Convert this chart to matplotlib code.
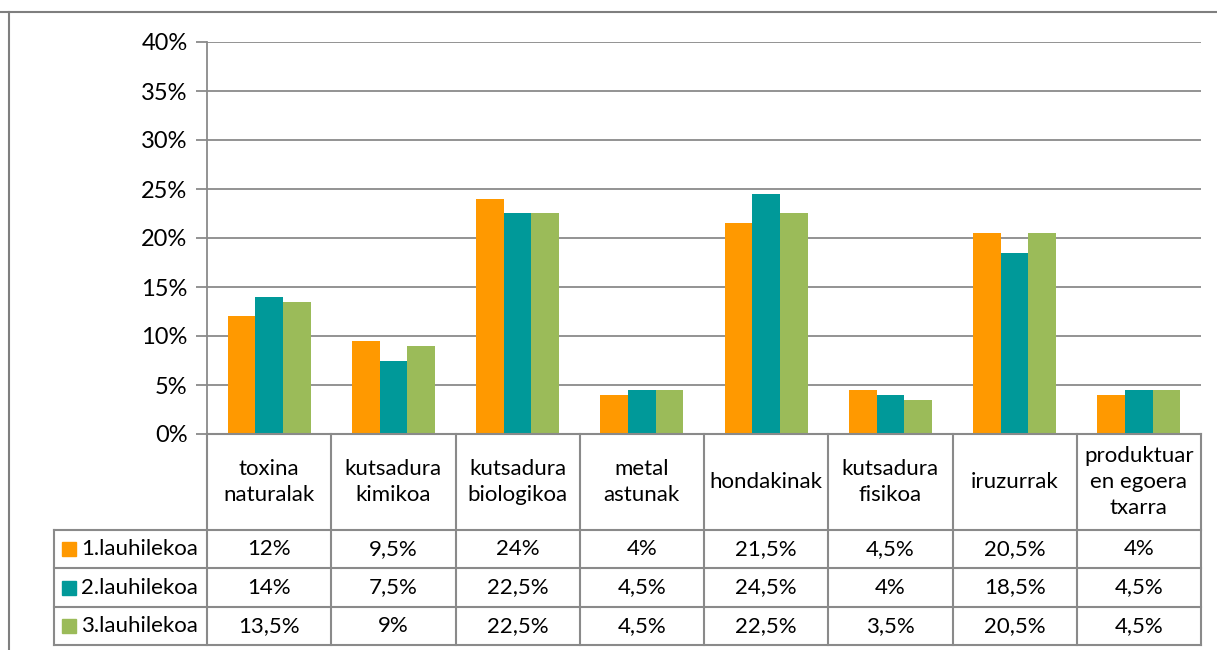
import numpy as np
import matplotlib
matplotlib.use("Agg")
import matplotlib.pyplot as plt
from matplotlib.patches import Rectangle

plt.rcParams['font.family'] = ['Lato', 'DejaVu Sans']

# data
categories = ["toxina\nnaturalak", "kutsadura\nkimikoa", "kutsadura\nbiologikoa", "metal\nastunak",
              "hondakinak", "kutsadura\nfisikoa", "iruzurrak", "produktuar\nen egoera\ntxarra"]
series_names = ["1.lauhilekoa", "2.lauhilekoa", "3.lauhilekoa"]
q1 = [12, 9.5, 24, 4, 21.5, 4.5, 20.5, 4]
q2 = [14, 7.5, 22.5, 4.5, 24.5, 4, 18.5, 4.5]
q3 = [13.5, 9, 22.5, 4.5, 22.5, 3.5, 20.5, 4.5]
colors = ["#FF9900", "#009999", "#9BBB59"]
yticks = [0, 5, 10, 15, 20, 25, 30, 35, 40]

W, H = 1217, 650
fig = plt.figure(figsize=(W / 100, H / 100), dpi=100)
line_c = "#8a8a8a"

def fx(px):
    return px / W

def fy(px):
    return 1 - px / H

# outer frame (top and left edges visible)
fig.add_artist(plt.Line2D([0, 1], [fy(12), fy(12)], color="#7f7f7f", lw=1.5))
fig.add_artist(plt.Line2D([fx(9), fx(9)], [fy(12), 0], color="#7f7f7f", lw=1.5))

# main bar axes
x0, x1, ytop, ybot = 207, 1201, 42, 434
ax = fig.add_axes([fx(x0), fy(ybot), fx(x1 - x0), (ybot - ytop) / H])
n = len(categories)
x = np.arange(n) + 0.5
bw = 0.222
for i, (vals, c) in enumerate(zip([q1, q2, q3], colors)):
    ax.bar(x + (i - 1) * bw, vals, width=bw, color=c, zorder=3)
ax.set_xlim(0, n)
ax.set_ylim(0, 40)
ax.set_yticks(yticks)
ax.set_yticklabels([f"{t}%" for t in yticks], fontsize=17)
ax.set_xticks([])
ax.grid(axis="y", color=line_c, lw=1.3, zorder=0)
for s in ["top", "right", "bottom"]:
    ax.spines[s].set_visible(False)
ax.spines["left"].set_color(line_c)
ax.spines["left"].set_linewidth(1.3)
ax.tick_params(axis="y", length=8, color=line_c, width=1.3, pad=6)

# data table
tl = 54
leg_w = (x0 - tl) / ((x1 - x0) / n)
row_b = [0, 96, 134, 173, 211]
tax = fig.add_axes([fx(tl), fy(645), fx(x1 - tl), (645 - ybot) / H])
tax.set_xlim(-leg_w, n)
tax.set_ylim(row_b[-1], 0)
tax.axis("off")
kw = dict(color=line_c, lw=1.5, clip_on=False)
# horizontal lines
tax.plot([0, n], [0, 0], **kw)
for yb in row_b[1:]:
    tax.plot([-leg_w, n], [yb, yb], **kw)
# vertical lines
tax.plot([-leg_w, -leg_w], [row_b[1], row_b[-1]], **kw)
for j in range(n + 1):
    tax.plot([j, j], [0, row_b[-1]], **kw)

for j, cat in enumerate(categories):
    tax.text(j + 0.5, row_b[1] / 2, cat, ha="center", va="center", fontsize=16, linespacing=1.35)

def fmt(v):
    s = f"{v:g}".replace(".", ",")
    return s + "%"

sq = 14 / ((x1 - x0) / n)
for r, (name, vals, c) in enumerate(zip(series_names, [q1, q2, q3], colors)):
    yc = (row_b[r + 1] + row_b[r + 2]) / 2
    tax.add_patch(Rectangle((-leg_w + 8 / 124.25, yc - 7), sq, 14, color=c, clip_on=False))
    tax.text(-leg_w + 27 / 124.25, yc, name, ha="left", va="center", fontsize=16)
    for j, v in enumerate(vals):
        tax.text(j + 0.5, yc, fmt(v), ha="center", va="center", fontsize=16)

fig.savefig("out.png", dpi=100)
